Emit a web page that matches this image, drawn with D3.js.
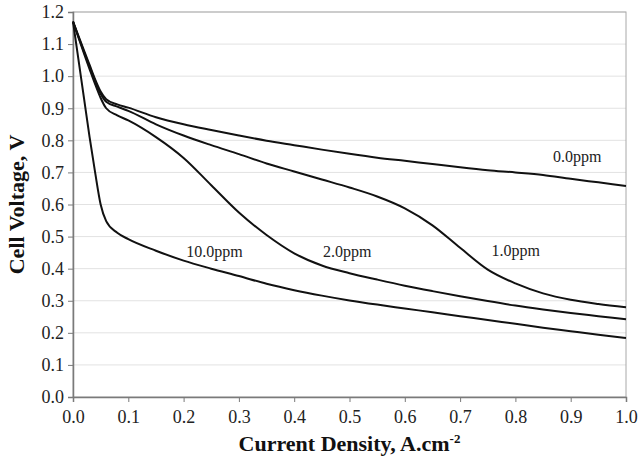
<!DOCTYPE html>
<html>
<head>
<meta charset="utf-8">
<script src="https://cdn.jsdelivr.net/npm/d3@7"></script>
<style>
  body { margin: 0; background: #fff; }
  text { font-family: "Liberation Serif", "Times New Roman", serif; }
</style>
</head>
<body>
<div id="chart"></div>
<script>
// current density (A/cm2) shared by all curves
var current = [0, 0.01, 0.02, 0.03, 0.04, 0.05, 0.06, 0.08, 0.1, 0.15, 0.2, 0.25, 0.3, 0.35, 0.4,
               0.45, 0.5, 0.55, 0.6, 0.65, 0.7, 0.75, 0.8, 0.85, 0.9, 0.95, 1.0];

// cell voltage (V) for each CO level
var v00 = [1.17, 1.125, 1.08, 1.035, 0.99, 0.952, 0.928, 0.912, 0.902, 0.872, 0.85, 0.832, 0.815, 0.799, 0.785,
           0.771, 0.758, 0.746, 0.736, 0.726, 0.716, 0.707, 0.700, 0.692, 0.680, 0.669, 0.658];
var v10 = [1.17, 1.122, 1.075, 1.03, 0.985, 0.945, 0.92, 0.905, 0.892, 0.85, 0.815, 0.785, 0.757, 0.728, 0.703,
           0.678, 0.653, 0.625, 0.588, 0.535, 0.465, 0.397, 0.354, 0.323, 0.303, 0.29, 0.28];
var v20 = [1.17, 1.12, 1.07, 1.022, 0.975, 0.932, 0.9, 0.878, 0.862, 0.81, 0.745, 0.66, 0.575, 0.505, 0.448,
           0.41, 0.386, 0.366, 0.347, 0.330, 0.314, 0.299, 0.285, 0.273, 0.262, 0.252, 0.242];
var v100 = [1.17, 1.05, 0.93, 0.81, 0.70, 0.60, 0.548, 0.512, 0.492, 0.456, 0.425, 0.4, 0.377, 0.353, 0.333,
            0.316, 0.301, 0.288, 0.276, 0.264, 0.252, 0.24, 0.228, 0.216, 0.205, 0.194, 0.184];

var seriesNames = ["0.0ppm", "1.0ppm", "2.0ppm", "10.0ppm"];
var seriesValues = [v00, v10, v20, v100];
// where each curve label sits, in data units
var labelX = [0.868, 0.757, 0.452, 0.205];
var labelY = [0.733, 0.439, 0.436, 0.436];

var xTicks = [0, 0.1, 0.2, 0.3, 0.4, 0.5, 0.6, 0.7, 0.8, 0.9, 1.0];
var yTicks = [0, 0.1, 0.2, 0.3, 0.4, 0.5, 0.6, 0.7, 0.8, 0.9, 1.0, 1.1, 1.2];

var margin = {top: 12, right: 12, bottom: 67, left: 73},
    width = 638 - margin.left - margin.right,
    height = 464 - margin.top - margin.bottom;

var svg = d3.select("#chart")
  .append("svg")
    .attr("width", 638)
    .attr("height", 464)
  .append("g")
    .attr("transform", "translate(" + margin.left + "," + margin.top + ")");

var x = d3.scaleLinear().domain([0, 1]).range([0, width]);
var y = d3.scaleLinear().domain([0, 1.2]).range([height, 0]);

// horizontal gridlines
svg.append("g")
  .selectAll("line")
  .data(yTicks.slice(1))
  .enter().append("line")
    .attr("x1", 0)
    .attr("x2", width)
    .attr("y1", function(d) { return y(d); })
    .attr("y2", function(d) { return y(d); })
    .attr("stroke", "#e2e2e2")
    .attr("stroke-width", 1);

// plot frame
svg.append("rect")
  .attr("width", width)
  .attr("height", height)
  .attr("fill", "none")
  .attr("stroke", "#a8a8a8")
  .attr("stroke-width", 1);

// Add X axis
var xAxis = svg.append("g")
  .attr("transform", "translate(0," + height + ")")
  .call(d3.axisBottom(x).tickValues(xTicks).tickFormat(d3.format(".1f")).tickSize(5).tickPadding(8));

// Add Y axis
var yAxis = svg.append("g")
  .call(d3.axisLeft(y).tickValues(yTicks).tickFormat(d3.format(".1f")).tickSize(5).tickPadding(4));

[xAxis, yAxis].forEach(function(a) {
  a.select(".domain").attr("stroke", "#7a7a7a").attr("stroke-width", 1.5);
  a.selectAll(".tick line").attr("stroke", "#7a7a7a");
  a.selectAll(".tick text")
    .attr("fill", "#222")
    .style("font-size", "18px")
    .style("font-family", "'Liberation Serif', serif");
});

// the curves
var line = d3.line()
  .x(function(d) { return x(d[0]); })
  .y(function(d) { return y(d[1]); })
  .curve(d3.curveMonotoneX);

seriesValues.forEach(function(vals) {
  svg.append("path")
    .datum(current.map(function(c, i) { return [c, vals[i]]; }))
    .attr("fill", "none")
    .attr("stroke", "#111")
    .attr("stroke-width", 2)
    .attr("d", line);
});

// curve labels
svg.append("g")
  .selectAll("text")
  .data(seriesNames)
  .enter().append("text")
    .attr("x", function(d, i) { return x(labelX[i]); })
    .attr("y", function(d, i) { return y(labelY[i]); })
    .attr("font-size", 16)
    .attr("fill", "#222")
    .text(function(d) { return d; });

// axis titles
svg.append("text")
  .attr("x", width / 2)
  .attr("y", height + 54)
  .attr("text-anchor", "middle")
  .attr("font-size", 22)
  .attr("font-weight", "bold")
  .attr("fill", "#111")
  .text("Current Density, A.cm")
  .append("tspan")
    .attr("dy", -8)
    .attr("font-size", 13)
    .text("-2");

svg.append("text")
  .attr("transform", "translate(" + (-49) + "," + (height / 2) + ") rotate(-90)")
  .attr("text-anchor", "middle")
  .attr("font-size", 22)
  .attr("font-weight", "bold")
  .attr("fill", "#111")
  .text("Cell Voltage, V");
</script>
</body>
</html>
